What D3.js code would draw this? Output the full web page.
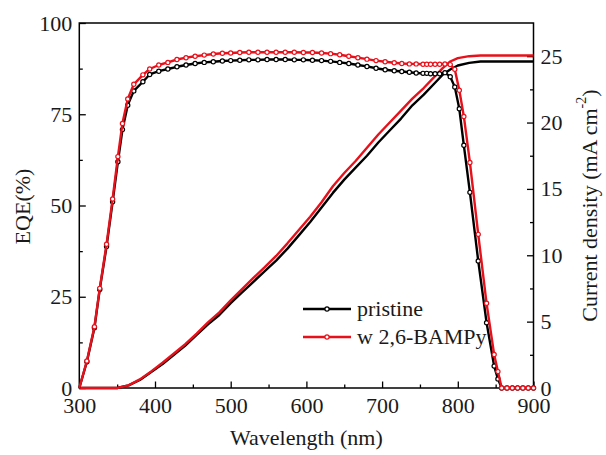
<!DOCTYPE html>
<html>
<head>
<meta charset="utf-8">
<script src="https://cdn.jsdelivr.net/npm/d3@7"></script>
<style>
  html, body { margin: 0; padding: 0; background: #fff; }
  svg { display: block; }
</style>
</head>
<body>
<svg id="chart" width="606" height="455"></svg>
<script>
// ---------- data ----------
const eqeWavelength = [300, 310, 320, 327, 336, 344, 351, 357, 364, 372, 384, 393, 405, 417, 429, 441, 453, 465, 477, 489, 500, 512, 524, 536, 548, 560, 572, 584, 596, 608, 620, 632, 644, 656, 668, 680, 692, 704, 716, 726, 736, 745, 754, 759, 764, 770, 776, 783, 790, 796, 802, 808, 816, 827, 838, 848, 853, 858, 865, 872, 879, 886, 893, 900];
const eqePristine = [0, 7.2, 16.5, 27.0, 38.8, 51.0, 62.0, 70.8, 77.5, 81.4, 83.9, 85.9, 86.8, 87.4, 88.0, 88.5, 88.9, 89.2, 89.4, 89.6, 89.7, 89.8, 89.9, 89.9, 90.0, 90.0, 90.0, 89.9, 89.9, 89.8, 89.7, 89.5, 89.2, 88.9, 88.5, 88.1, 87.6, 87.2, 86.9, 86.7, 86.5, 86.3, 86.2, 86.2, 86.1, 86.1, 86.1, 86.4, 85.3, 82.5, 76.5, 66.5, 53.6, 34.8, 17.9, 6.0, 2.5, 0, 0, 0, 0, 0, 0, 0];
const eqeBampy = [0, 7.4, 16.8, 27.3, 39.4, 51.8, 63.4, 72.5, 79.2, 83.2, 85.8, 87.4, 88.5, 89.2, 90.0, 90.5, 90.9, 91.2, 91.5, 91.7, 91.8, 91.9, 92.0, 92.0, 92.0, 92.0, 92.0, 92.0, 91.9, 91.9, 91.8, 91.6, 91.3, 90.9, 90.5, 90.1, 89.7, 89.4, 89.1, 88.9, 88.8, 88.8, 88.7, 88.7, 88.7, 88.7, 88.7, 88.8, 88.6, 87.3, 81.6, 74.4, 61.8, 42.1, 23.2, 9.2, 4.5, 0, 0, 0, 0, 0, 0, 0];

const jWavelength = [300, 350, 365, 380, 395, 410, 425, 440, 455, 470, 485, 500, 515, 530, 545, 560, 575, 590, 605, 620, 635, 650, 665, 680, 695, 710, 725, 740, 755, 770, 780, 790, 800, 815, 830, 850, 900];
const jPristine = [0, 0, 0.2, 0.6, 1.2, 1.8, 2.5, 3.2, 4.0, 4.8, 5.5, 6.4, 7.2, 8.0, 8.8, 9.6, 10.5, 11.5, 12.5, 13.6, 14.7, 15.7, 16.6, 17.5, 18.5, 19.4, 20.3, 21.3, 22.1, 23.0, 23.6, 24.0, 24.3, 24.5, 24.6, 24.6, 24.6];
const jBampy = [0, 0, 0.2, 0.65, 1.25, 1.9, 2.6, 3.3, 4.1, 4.95, 5.7, 6.6, 7.45, 8.3, 9.1, 9.95, 10.9, 11.9, 12.9, 14.0, 15.2, 16.2, 17.1, 18.1, 19.1, 20.0, 20.9, 21.8, 22.6, 23.5, 24.1, 24.6, 24.85, 25.0, 25.05, 25.05, 25.05];

const xTicks = [300, 400, 500, 600, 700, 800, 900];
const eqeTicks = [0, 25, 50, 75, 100];
const jTicks = [0, 5, 10, 15, 20, 25];
const seriesNames = ["pristine", "w 2,6-BAMPy"];
const seriesColors = ["#000000", "#e8101a"];

// ---------- layout ----------
const svg = d3.select("#chart");
const L = 79.3, R = 533.5, T = 23, B = 388;

const x = d3.scaleLinear().domain([300, 900]).range([L, R]);
const yL = d3.scaleLinear().domain([0, 100]).range([B, T]);
const yR = d3.scaleLinear().domain([0, 27.5]).range([B, T]);

const FONT = 22;

// ---------- axes ----------
function styleAxis(g) {
  g.select(".domain").remove();
  g.selectAll("line").attr("stroke", "#000").attr("stroke-width", 1.3);
  g.selectAll("text").style("font-size", FONT + "px").attr("fill", "#1a1a1a");
}

// bottom minor ticks
svg.append("g").attr("transform", `translate(0,${B})`)
  .call(d3.axisBottom(x).tickValues(d3.range(350, 900, 100)).tickSize(-3.5).tickFormat(""))
  .call(styleAxis);
// bottom major
svg.append("g").attr("transform", `translate(0,${B})`)
  .call(d3.axisBottom(x).tickValues(xTicks).tickSize(-6.5).tickFormat(d3.format("d")))
  .call(styleAxis)
  .call(g => g.selectAll("text").attr("dy", "0.72em").attr("y", 9));

// left minor
svg.append("g").attr("transform", `translate(${L},0)`)
  .call(d3.axisLeft(yL).tickValues([12.5, 37.5, 62.5, 87.5]).tickSize(-3.5).tickFormat(""))
  .call(styleAxis);
// left major
svg.append("g").attr("transform", `translate(${L},0)`)
  .call(d3.axisLeft(yL).tickValues(eqeTicks).tickSize(-6.5).tickFormat(d3.format("d")))
  .call(styleAxis)
  .call(g => g.selectAll("text").attr("x", -7));

// right minor
svg.append("g").attr("transform", `translate(${R},0)`)
  .call(d3.axisRight(yR).tickValues([2.5, 7.5, 12.5, 17.5, 22.5]).tickSize(-3.5).tickFormat(""))
  .call(styleAxis);
// right major
svg.append("g").attr("transform", `translate(${R},0)`)
  .call(d3.axisRight(yR).tickValues(jTicks).tickSize(-6.5).tickFormat(d3.format("d")))
  .call(styleAxis)
  .call(g => g.selectAll("text").attr("x", 7));

// frame
svg.append("rect")
  .attr("x", L).attr("y", T).attr("width", R - L).attr("height", B - T)
  .attr("fill", "none").attr("stroke", "#000").attr("stroke-width", 1.5);

// axis titles
svg.append("text")
  .attr("x", (L + R) / 2).attr("y", 445)
  .attr("text-anchor", "middle")
  .style("font-size", FONT + "px")
  .text("Wavelength (nm)");

svg.append("text")
  .attr("transform", `translate(22,${(T + B) / 2 + 1}) rotate(-90)`)
  .attr("text-anchor", "middle")
  .attr("dominant-baseline", "central")
  .style("font-size", FONT + "px")
  .text("EQE(%)");

const rt = svg.append("text")
  .attr("transform", `translate(589,${(T + B) / 2}) rotate(-90)`)
  .attr("text-anchor", "middle")
  .attr("dominant-baseline", "central")
  .style("font-size", FONT + "px");
rt.append("tspan").text("Current density (mA cm");
rt.append("tspan").attr("dy", -8).style("font-size", "14px").text("-2");
rt.append("tspan").attr("dy", 8).text(")");

// ---------- plot ----------
const plot = svg.append("g");

const jLine = d3.line().x(d => x(d[0])).y(d => yR(d[1]));
const eqeLine = d3.line().x(d => x(d[0])).y(d => yL(d[1]));

const jSeries = [jPristine, jBampy];
jSeries.forEach((vals, i) => {
  plot.append("path")
    .datum(jWavelength.map((w, k) => [w, vals[k]]))
    .attr("d", jLine)
    .attr("fill", "none")
    .attr("stroke", seriesColors[i])
    .attr("stroke-width", 2.4)
    .attr("stroke-linejoin", "round");
});

const eqeSeries = [eqePristine, eqeBampy];
eqeSeries.forEach((vals, i) => {
  const pts = eqeWavelength.map((w, k) => [w, vals[k]]);
  plot.append("path")
    .datum(pts)
    .attr("d", eqeLine)
    .attr("fill", "none")
    .attr("stroke", seriesColors[i])
    .attr("stroke-width", 2.4)
    .attr("stroke-linejoin", "round");
  plot.append("g").selectAll("circle")
    .data(pts.filter(p => p[0] > 300))
    .join("circle")
    .attr("cx", d => x(d[0]))
    .attr("cy", d => yL(d[1]))
    .attr("r", 2.1)
    .attr("fill", "#fff")
    .attr("stroke", seriesColors[i])
    .attr("stroke-width", 1.2);
});

// ---------- legend ----------
const legend = svg.append("g");
seriesNames.forEach((name, i) => {
  const ly = 309 + i * 28;
  legend.append("line")
    .attr("x1", 303).attr("x2", 351).attr("y1", ly).attr("y2", ly)
    .attr("stroke", seriesColors[i]).attr("stroke-width", 2.4);
  legend.append("circle")
    .attr("cx", 327).attr("cy", ly).attr("r", 2.1)
    .attr("fill", "#fff").attr("stroke", seriesColors[i]).attr("stroke-width", 1.2);
  legend.append("text")
    .attr("x", 357).attr("y", ly + 7)
    .style("font-size", FONT + "px")
    .text(name);
});

// font for every text
svg.selectAll("g").attr("font-family", null);
svg.selectAll("text").style("font-family", "Liberation Serif").attr("fill", "#1a1a1a");
</script>
</body>
</html>
